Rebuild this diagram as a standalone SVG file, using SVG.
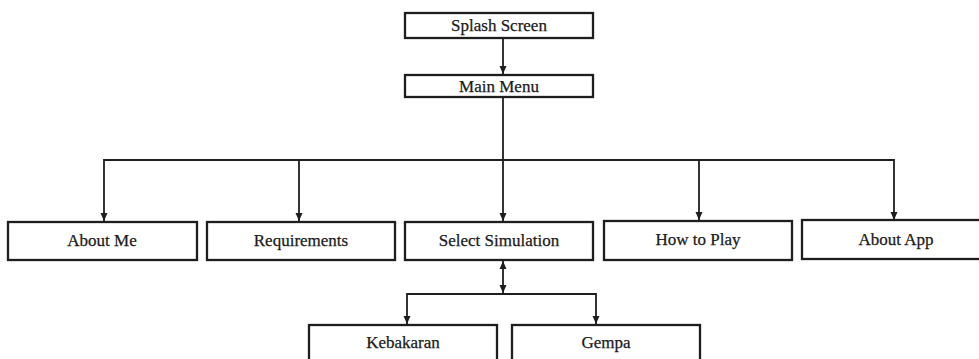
<svg xmlns="http://www.w3.org/2000/svg" width="979" height="359" viewBox="0 0 979 359">
<style>
.box{fill:#fff;stroke:#1e1e1e;stroke-width:2.3}
.lbl{font-family:"Liberation Serif","Times New Roman",serif;font-size:17px;fill:#1a1a1a;stroke:#1a1a1a;stroke-width:0.25;text-anchor:middle}
.con{fill:none;stroke:#1e1e1e;stroke-width:1.8}
</style>
<defs>
<marker id="ah" markerUnits="userSpaceOnUse" markerWidth="8" markerHeight="8" viewBox="0 0 8 8" refX="8" refY="4" orient="auto-start-reverse">
<path d="M0,0.5 L8,4 L0,7.5 Z" fill="#1e1e1e"/>
</marker>
</defs>
<rect width="979" height="359" fill="#fff"/>
<g id="connectors">
<line class="con" x1="503" y1="38" x2="503" y2="74" marker-end="url(#ah)"/>
<line class="con" x1="503" y1="97" x2="503" y2="221" marker-end="url(#ah)"/>
<polyline class="con" points="104,221 104,160 894,160 894,220" marker-start="url(#ah)" marker-end="url(#ah)"/>
<line class="con" x1="299" y1="160" x2="299" y2="221" marker-end="url(#ah)"/>
<line class="con" x1="699" y1="160" x2="699" y2="220" marker-end="url(#ah)"/>
<line class="con" x1="503" y1="261" x2="503" y2="293" marker-start="url(#ah)" marker-end="url(#ah)"/>
<polyline class="con" points="407,324 407,294 596,294 596,324" marker-start="url(#ah)" marker-end="url(#ah)"/>
</g>
<g id="splash"><rect class="box" x="405" y="13" width="188" height="25"/><text class="lbl" x="499" y="31">Splash Screen</text></g>
<g id="mainmenu"><rect class="box" x="405" y="75" width="188" height="22"/><text class="lbl" x="499" y="91.5">Main Menu</text></g>
<g id="aboutme"><rect class="box" x="8" y="222" width="189" height="38"/><text class="lbl" x="102" y="246">About Me</text></g>
<g id="requirements"><rect class="box" x="207" y="222" width="188" height="38"/><text class="lbl" x="301" y="246">Requirements</text></g>
<g id="selectsim"><rect class="box" x="405" y="222" width="188" height="38"/><text class="lbl" x="499" y="246">Select Simulation</text></g>
<g id="howtoplay"><rect class="box" x="604" y="221" width="188" height="39"/><text class="lbl" x="698" y="245">How to Play</text></g>
<g id="aboutapp"><rect class="box" x="802" y="220" width="190" height="39"/><text class="lbl" x="896" y="245">About App</text></g>
<g id="kebakaran"><rect class="box" x="309" y="325" width="188" height="50"/><text class="lbl" x="403" y="348">Kebakaran</text></g>
<g id="gempa"><rect class="box" x="512" y="325" width="188" height="50"/><text class="lbl" x="606" y="348">Gempa</text></g>
</svg>
